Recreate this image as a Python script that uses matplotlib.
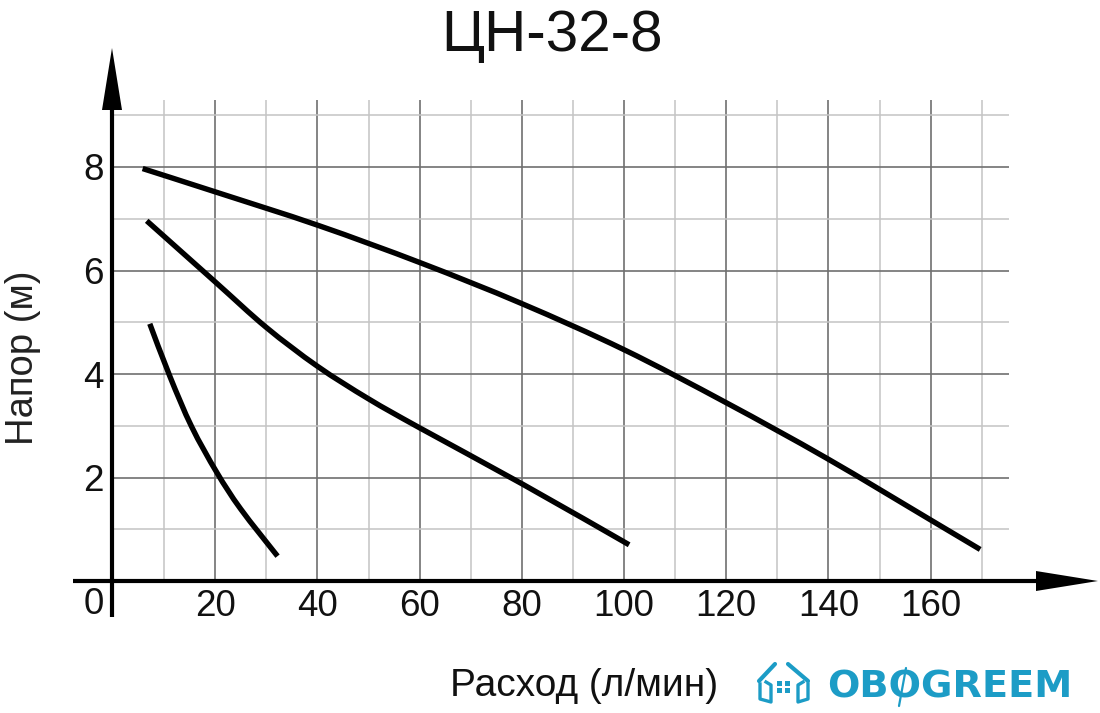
import matplotlib
matplotlib.use("Agg")
import matplotlib.pyplot as plt
from matplotlib.lines import Line2D
from matplotlib.patches import Polygon, Rectangle, PathPatch
from matplotlib.path import Path

title = "ЦН-32-8"
x_label = "Расход (л/мин)"
y_label = "Напор (м)"
brand = "OBOGREEM"
x_major = [20, 40, 60, 80, 100, 120, 140, 160]
x_minor = [10, 30, 50, 70, 90, 110, 130, 150, 170]
y_major = [2, 4, 6, 8]
y_minor = [1, 3, 5, 7, 9]

q_high = [5.8, 20, 40.2, 60.4, 80, 100, 120.1, 139.7, 160, 169.7]
h_high = [7.97, 7.52, 6.87, 6.14, 5.36, 4.47, 3.44, 2.37, 1.18, 0.61]
q_mid = [6.6, 20, 30, 40, 50, 60, 80, 101]
h_mid = [6.96, 5.78, 4.9, 4.15, 3.52, 2.96, 1.88, 0.7]
q_low = [7.2, 11.15, 15.4, 20.3, 25, 32.2]
h_low = [4.97, 3.95, 2.98, 2.1, 1.39, 0.48]

W, H = 1100, 713
plt.rcParams["font.family"] = ["Liberation Sans", "DejaVu Sans"]
fig = plt.figure(figsize=(W / 100, H / 100), dpi=100)
L, R, T, B = 111.5, 1009, 100, 581
X0, SX, SY = 113.0, 5.11, 51.75
ax = fig.add_axes([L / W, 1 - B / H, (R - L) / W, (B - T) / H])
ax.set_xlim((L - X0) / SX, (R - X0) / SX)
ax.set_ylim(0, (B - T) / SY)

ax.set_xticks(x_major)
ax.set_xticklabels([str(v) for v in x_major], fontsize=26.5, color="#111111")
ax.set_yticks(y_major)
ax.set_yticklabels([str(v) for v in y_major], fontsize=26.5, color="#111111")
ax.set_xticks(x_minor, minor=True)
ax.set_yticks(y_minor, minor=True)
ax.tick_params(which="both", length=0)
ax.tick_params(axis="x", which="major", pad=6)
ax.tick_params(axis="y", which="major", pad=5.5)
ax.grid(True, which="major", color="#707070", lw=1.2)
ax.grid(True, which="minor", color="#c4c4c4", lw=1.1)
ax.set_axisbelow(True)
for s in ("top", "right", "left", "bottom"):
    ax.spines[s].set_visible(False)


def smooth_path(xs, ys):
    """Bezier path running through every read point."""
    pts = list(zip(xs, ys))
    verts, codes = [pts[0]], [Path.MOVETO]
    for i in range(len(pts) - 1):
        p0 = pts[max(i - 1, 0)]
        p1 = pts[i]
        p2 = pts[i + 1]
        p3 = pts[min(i + 2, len(pts) - 1)]
        c1 = (p1[0] + (p2[0] - p0[0]) / 6, p1[1] + (p2[1] - p0[1]) / 6)
        c2 = (p2[0] - (p3[0] - p1[0]) / 6, p2[1] - (p3[1] - p1[1]) / 6)
        verts += [c1, c2, p2]
        codes += [Path.CURVE4, Path.CURVE4, Path.CURVE4]
    return Path(verts, codes)


for q, h in ((q_high, h_high), (q_mid, h_mid), (q_low, h_low)):
    ax.add_patch(PathPatch(smooth_path(q, h), fc="none", ec="black", lw=3.9, capstyle="butt", joinstyle="round"))


# axes with arrows, in pixel coordinates of the figure
def P(x, y):
    return (x / W, 1 - y / H)


def pix_line(xs, ys, **kw):
    fig.add_artist(Line2D([x / W for x in xs], [1 - y / H for y in ys], **kw))


def pix_poly(pts, **kw):
    fig.add_artist(Polygon([P(*p) for p in pts], closed=True, transform=fig.transFigure, **kw))


pix_line([111.5, 111.5], [617, 105], color="black", lw=3.0, solid_capstyle="butt")
pix_line([73, 1040], [581.3, 581.3], color="black", lw=3.0, solid_capstyle="butt")
pix_poly([(112, 48), (122, 110), (102, 110)], fc="black", ec="none")
pix_poly([(1098, 581), (1036, 571), (1036, 591)], fc="black", ec="none")

fig.text(552.5 / W, 1 - 36 / H, title, fontsize=42, ha="center", va="center", color="#111111")
fig.text(94 / W, 1 - 605 / H, "0", fontsize=26.5, ha="center", va="center", color="#111111")
fig.text(584 / W, 1 - 686 / H, x_label, fontsize=28, ha="center", va="center", color="#111111")
fig.text(23 / W, 1 - 358 / H, y_label, fontsize=27.5, rotation=90, ha="center", va="center", color="#222222")

# brand mark
blue = "#1c9cc6"
fig.text(827 / W, 1 - 687 / H, brand, fontsize=27.5, fontweight="bold", family="DejaVu Sans",
         ha="left", va="center", color=blue)
pix_line([906, 899], [668, 706], color="white", lw=4.5, solid_capstyle="butt")
pix_line([906, 899], [668, 706], color=blue, lw=1.6, solid_capstyle="round")
pix_line([759, 775], [681, 664], color=blue, lw=3, solid_capstyle="round")
pix_line([788, 808], [664, 681], color=blue, lw=3, solid_capstyle="round")
pix_line([760, 760, 771, 771, 766], [684, 699, 702, 685, 682], color=blue, lw=2.4, solid_joinstyle="round")
pix_line([808, 808, 798, 798, 803], [684, 699, 702, 685, 682], color=blue, lw=2.4, solid_joinstyle="round")
for rx in (777, 785):
    for ry in (681, 688):
        fig.add_artist(Rectangle(P(rx, ry + 5), 5 / W, 5 / H, transform=fig.transFigure, fc=blue, ec="none"))

fig.savefig("out.png", dpi=100, facecolor="white")
